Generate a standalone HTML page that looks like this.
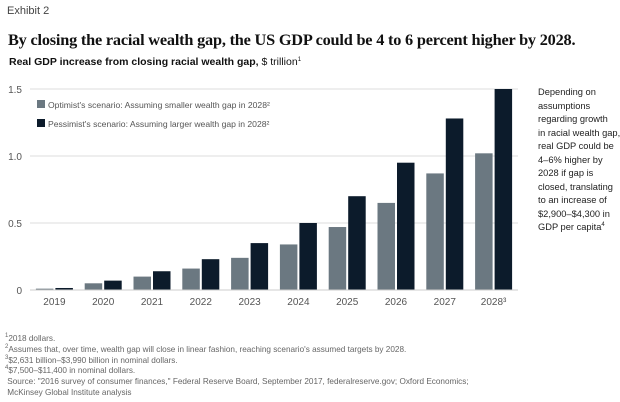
<!DOCTYPE html>
<html><head><meta charset="utf-8"><style>
body{margin:0;width:620px;height:402px;background:#fff;font-family:"Liberation Sans",sans-serif;overflow:hidden;position:relative;color:#111}
.a{position:absolute;white-space:nowrap}
sup{font-size:6px;vertical-align:4px;line-height:0}
</style></head><body>
<div class="a" style="left:7px;top:5px;font-size:11px;color:#444">Exhibit 2</div>
<div class="a" style="left:8px;top:30px;font-family:'Liberation Serif',serif;font-weight:bold;font-size:16.3px;letter-spacing:-0.2px">By closing the racial wealth gap, the US GDP could be 4 to 6 percent higher by 2028.</div>
<div class="a" style="left:9px;top:56px;font-size:10.5px"><b>Real GDP increase from closing racial wealth gap,</b> $ trillion<sup>1</sup></div>
<div class="a" style="left:538px;top:86px;font-size:9.3px;line-height:13.5px;color:#222">Depending on<br>assumptions<br>regarding growth<br>in racial wealth gap,<br>real GDP could be<br>4–6% higher by<br>2028 if gap is<br>closed, translating<br>to an increase of<br>$2,900–$4,300 in<br>GDP per capita<sup>4</sup></div>
<svg id="chart" width="620" height="402" style="position:absolute;left:0;top:0"></svg>
<div class="a" style="left:5px;top:334px;font-size:8.2px;line-height:10.8px;color:#666">
<sup>1</sup>2018 dollars.<br><sup>2</sup>Assumes that, over time, wealth gap will close in linear fashion, reaching scenario's assumed targets by 2028.<br><sup>3</sup>$2,631 billion–$3,990 billion in nominal dollars.<br><sup>4</sup>$7,500–$11,400 in nominal dollars.<br>&nbsp;Source: "2016 survey of consumer finances," Federal Reserve Board, September 2017, federalreserve.gov; Oxford Economics;<br>&nbsp;McKinsey Global Institute analysis</div>
<script>
const categories=["2019","2020","2021","2022","2023","2024","2025","2026","2027","2028"];
const optimist=[0.01,0.05,0.10,0.16,0.24,0.34,0.47,0.65,0.87,1.02];
const pessimist=[0.015,0.07,0.14,0.23,0.35,0.50,0.70,0.95,1.28,1.50];
const ticks=[0,0.5,1.0,1.5];
const tickLabels=["0","0.5","1.0","1.5"];
const svg=document.getElementById('chart');const NS="http://www.w3.org/2000/svg";
const x0=30,x1=518,y0=290,yTop=89,maxV=1.5;
const y=v=>y0-(v/maxV)*(y0-yTop);
const step=(x1-x0)/categories.length;
function mk(t,a){const e=document.createElementNS(NS,t);for(const k in a)e.setAttribute(k,a[k]);svg.appendChild(e);return e;}
ticks.forEach((t,i)=>{
 const l=mk('line',{x1:x0,x2:x1,y1:y(t),y2:y(t),stroke:'#ddd','stroke-width':1});
 
 
 const tx=mk('text',{x:22,y:y(t)+4,'text-anchor':'end','font-size':10,fill:'#555','font-family':'Liberation Sans'});
 tx.textContent=tickLabels[i];
 
 
});
const bw=17.5;
categories.forEach((c,i)=>{
 const cx=x0+step*i+step/2;
 const r1=mk('rect',{x:cx-bw-1,y:y(optimist[i]),width:bw,height:y0-y(optimist[i]),fill:'#6b7881'});
 
 
 const r2=mk('rect',{x:cx+1,y:y(pessimist[i]),width:bw,height:y0-y(pessimist[i]),fill:'#0c1b2b'});
 
 
 const t=mk('text',{x:cx,y:y0+15,'text-anchor':'middle','font-size':10,fill:'#555','font-family':'Liberation Sans'});
 t.textContent=c+(i===categories.length-1?'³':'');
 
 
});
const ax=mk('line',{x1:x0,x2:x1,y1:y0,y2:y0,stroke:'#ccc','stroke-width':1});


const leg=[["#6b7881","Optimist's scenario: Assuming smaller wealth gap in 2028²"],["#0c1b2b","Pessimist's scenario: Assuming larger wealth gap in 2028²"]];
leg.forEach((l,i)=>{
 const r=mk('rect',{x:37,y:100+i*19,width:8,height:8,fill:l[0]});
 
 
 const t=mk('text',{x:48,y:108+i*19,'font-size':8.6,fill:'#555','font-family':'Liberation Sans'});
 t.textContent=l[1];
 
 
});
</script>
</body></html>
